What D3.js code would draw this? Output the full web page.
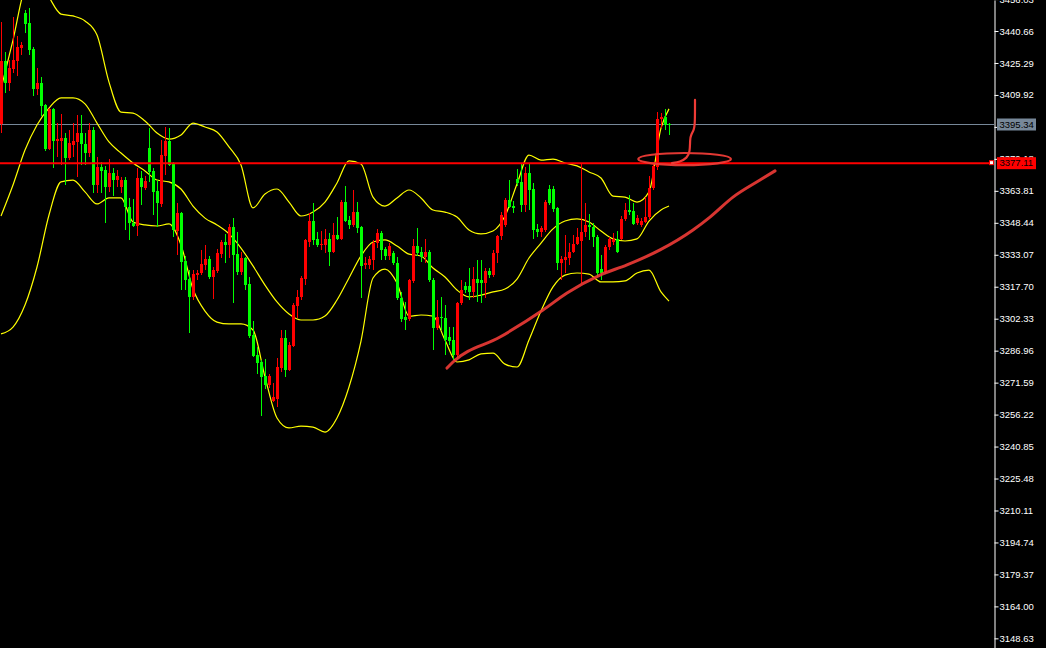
<!DOCTYPE html>
<html><head><meta charset="utf-8">
<script src="https://cdn.jsdelivr.net/npm/d3@7"></script>
<style>html,body{margin:0;padding:0;background:#000;overflow:hidden}</style>
</head><body><svg id="c" width="1046" height="648"></svg>
<script>
// ---- Candle data (index = bar number, left to right) ----
const opens=[3396.0,3426.2,3415.7,3422.4,3426.2,3432.5,3449.3,3444.5,3432.0,3412.8,
3415.7,3405.1,3383.9,3403.2,3387.8,3387.8,3389.2,3379.6,3385.9,3387.3,
3391.6,3386.3,3382.0,3393.1,3366.6,3375.3,3373.8,3365.7,3372.4,3369.0,
3365.7,3369.0,3356.0,3348.4,3346.9,3370.0,3365.2,3384.4,3373.4,3363.7,
3357.5,3380.6,3387.8,3377.2,3344.5,3353.2,3330.1,3321.4,3312.8,3323.3,
3324.3,3328.2,3331.0,3322.4,3325.3,3333.4,3339.2,3337.8,3346.4,3333.4,
3324.8,3331.5,3319.0,3294.5,3284.9,3281.5,3274.8,3270.5,3262.8,3263.7,
3278.6,3293.0,3277.7,3289.2,3308.4,3312.8,3321.4,3339.2,3349.3,3340.7,
3337.8,3337.8,3340.7,3334.4,3342.6,3340.7,3358.4,3349.8,3347.4,3353.6,
3346.4,3328.2,3328.2,3330.6,3338.7,3343.5,3335.8,3332.5,3333.9,3329.1,
3312.3,3303.1,3302.2,3320.5,3337.3,3334.4,3332.0,3334.4,3320.9,3297.9,
3303.1,3302.7,3293.5,3292.1,3284.9,3309.9,3318.1,3318.1,3315.2,3321.4,
3320.9,3319.5,3325.3,3323.3,3333.9,3342.1,3347.4,3359.4,3356.5,3369.5,
3368.1,3357.0,3372.4,3364.7,3345.5,3344.0,3345.0,3364.7,3364.7,3355.6,
3329.1,3330.6,3331.5,3334.4,3338.3,3339.7,3344.0,3347.4,3346.4,3341.6,
3326.2,3324.8,3336.8,3339.2,3340.7,3340.7,3350.3,3354.6,3354.1,3348.4,
3347.4,3348.8,3351.2,3365.2,3375.3,3398.4,3399.3,3396.0];
const highs=[3445.0,3430.6,3426.7,3447.4,3438.3,3435.4,3450.8,3451.7,3433.0,3422.9,
3418.5,3405.6,3403.6,3403.6,3396.4,3400.8,3391.6,3393.1,3396.4,3400.3,
3400.3,3391.6,3396.4,3394.5,3380.1,3377.7,3375.8,3379.1,3374.8,3373.8,
3370.5,3370.5,3360.4,3359.9,3374.8,3373.4,3370.9,3394.0,3374.8,3369.0,
3388.3,3394.5,3394.0,3377.7,3358.0,3353.6,3332.5,3325.7,3325.7,3325.7,
3335.4,3337.8,3332.5,3327.2,3335.8,3340.2,3343.1,3347.9,3350.7,3344.0,
3334.4,3332.0,3322.4,3301.2,3288.7,3282.5,3283.0,3275.7,3271.4,3283.4,
3296.9,3296.9,3291.1,3309.9,3316.1,3322.9,3340.7,3353.2,3358.0,3344.0,
3344.5,3345.5,3343.5,3348.4,3351.2,3359.4,3366.1,3351.7,3364.2,3358.4,
3346.9,3332.0,3332.5,3340.2,3345.5,3344.5,3336.8,3338.7,3334.9,3332.0,
3315.2,3310.4,3321.4,3340.7,3345.9,3336.8,3340.7,3335.4,3321.9,3311.3,
3312.8,3308.9,3298.3,3298.3,3310.4,3320.9,3320.0,3326.7,3327.2,3330.6,
3330.6,3326.7,3326.7,3335.4,3342.6,3353.6,3360.4,3369.0,3358.9,3374.3,
3377.2,3375.3,3377.2,3367.6,3347.9,3346.9,3359.4,3366.6,3366.1,3356.0,
3332.5,3342.6,3338.7,3342.6,3345.9,3377.2,3358.0,3352.7,3348.4,3342.6,
3333.0,3337.8,3341.6,3343.5,3344.5,3351.7,3358.0,3361.8,3358.0,3352.2,
3350.7,3360.8,3370.9,3377.2,3401.7,3401.2,3403.2,3396.4];
const lows=[3391.6,3410.9,3411.8,3420.5,3419.0,3429.1,3439.7,3429.1,3409.4,3409.9,
3399.8,3383.0,3383.4,3374.8,3380.1,3376.2,3366.6,3378.6,3380.1,3370.5,
3376.2,3376.2,3380.1,3362.8,3362.8,3362.8,3348.4,3363.3,3361.3,3365.7,
3362.8,3345.0,3340.2,3346.4,3342.1,3357.0,3364.2,3368.1,3352.2,3346.4,
3356.0,3371.4,3375.8,3341.6,3333.0,3316.1,3316.1,3295.5,3311.3,3320.9,
3323.3,3325.7,3321.4,3311.8,3324.3,3331.5,3329.1,3331.5,3309.9,3323.3,
3323.3,3316.1,3293.0,3283.9,3275.7,3255.5,3268.5,3269.0,3262.5,3259.9,
3276.7,3274.3,3277.2,3288.7,3302.7,3311.3,3318.5,3336.8,3337.8,3336.8,
3335.4,3333.9,3327.7,3333.9,3340.2,3340.2,3348.8,3345.5,3346.4,3343.5,
3312.3,3326.2,3326.2,3325.7,3336.3,3330.6,3330.6,3330.6,3328.2,3311.3,
3300.7,3296.9,3301.2,3319.5,3332.5,3329.6,3329.1,3320.0,3287.3,3296.9,
3296.9,3284.9,3289.7,3282.5,3283.4,3308.9,3314.7,3311.3,3312.3,3310.4,
3309.9,3312.3,3321.9,3322.4,3329.1,3340.2,3346.4,3355.6,3353.2,3366.1,
3353.6,3353.6,3354.6,3340.7,3341.6,3341.6,3344.0,3357.0,3353.6,3325.7,
3320.9,3324.3,3328.2,3333.9,3337.8,3319.5,3341.6,3340.2,3336.8,3322.4,
3320.9,3323.8,3335.4,3337.8,3333.9,3340.2,3349.3,3352.2,3347.4,3347.4,
3346.4,3348.4,3350.3,3364.2,3373.8,3394.0,3393.1,3390.7];
const closes=[3426.2,3415.7,3422.9,3426.7,3433.0,3433.9,3444.0,3431.5,3412.8,3415.7,
3404.6,3383.9,3403.2,3387.8,3388.7,3389.2,3379.6,3386.8,3387.8,3391.6,
3386.3,3382.0,3393.1,3366.6,3375.3,3373.4,3365.7,3372.4,3369.0,3370.9,
3369.0,3356.0,3348.4,3346.9,3370.0,3365.7,3368.5,3372.9,3363.3,3358.0,
3381.0,3387.8,3376.2,3345.0,3353.2,3329.6,3320.9,3312.8,3323.8,3324.3,
3328.6,3331.0,3322.4,3325.7,3333.9,3339.2,3337.8,3346.4,3333.0,3324.8,
3331.5,3318.5,3294.0,3284.4,3281.0,3274.3,3270.5,3274.8,3264.7,3279.1,
3293.0,3277.7,3289.7,3308.9,3312.8,3321.9,3340.2,3349.3,3340.2,3337.8,
3338.3,3340.7,3334.4,3342.6,3340.7,3358.4,3349.3,3347.4,3353.6,3345.9,
3327.7,3329.1,3331.0,3338.7,3343.5,3335.4,3332.5,3337.3,3329.1,3312.3,
3302.2,3301.7,3320.9,3337.3,3333.9,3332.0,3334.4,3320.9,3297.9,3303.1,
3302.7,3292.1,3291.6,3284.9,3309.9,3316.1,3316.1,3315.2,3321.4,3319.5,
3319.5,3325.3,3323.3,3333.9,3342.1,3352.2,3359.4,3356.0,3355.6,3367.6,
3357.0,3372.4,3364.2,3345.0,3344.0,3345.9,3358.4,3358.0,3355.1,3329.1,
3331.0,3332.0,3334.4,3338.3,3341.6,3344.0,3347.4,3346.4,3341.6,3324.3,
3324.3,3336.8,3340.7,3340.7,3334.4,3350.3,3354.6,3353.6,3347.9,3350.7,
3349.3,3351.2,3365.2,3375.8,3398.4,3399.3,3395.5,3395.3];

// ---- Bollinger band readings (at bar indices) ----
const bandIdx=[0,3,6,9,12,15,18,21,24,27,30,33,36,39,42,45,48,51,54,57,60,63,66,69,72,75,78,81,84,87,
90,93,96,99,102,105,108,111,114,117,120,123,126,129,132,135,138,141,144,147,150,153,156,159,162,165,167];
const bandUpper=[3412.8,3436.3,3461.3,3467.6,3457.0,3448.8,3447.9,3445.5,3438.7,3416.1,
3401.7,3401.2,3397.4,3391.6,3388.7,3390.7,3396.4,3394.5,3392.1,3384.9,
3376.2,3355.6,3362.3,3364.7,3358.4,3351.7,3353.6,3358.4,3367.6,3378.2,
3376.7,3360.8,3356.5,3360.4,3364.2,3360.4,3354.6,3353.6,3351.2,3345.0,
3343.1,3344.5,3351.7,3367.1,3381.0,3378.6,3379.1,3377.2,3375.8,3372.9,
3370.0,3361.3,3360.8,3358.4,3363.3,3394.0,3403.2];
const bandMiddle=[3351.7,3366.6,3383.4,3395.5,3403.6,3408.5,3408.5,3405.6,3396.4,3387.3,
3382.0,3377.2,3373.4,3369.0,3368.1,3364.7,3356.5,3350.7,3347.4,3343.1,
3336.3,3327.7,3318.5,3310.4,3304.6,3301.7,3301.7,3303.6,3311.3,3321.9,
3332.5,3339.2,3340.2,3337.3,3333.4,3332.5,3326.7,3322.4,3316.1,3312.8,
3313.7,3315.2,3316.6,3321.4,3331.5,3338.7,3345.5,3349.3,3350.3,3348.8,
3344.5,3340.7,3339.7,3340.7,3349.3,3354.6,3356.5];
const bandLower=[3295.0,3298.3,3308.9,3327.2,3352.2,3368.1,3369.0,3363.3,3357.5,3360.4,
3360.4,3348.8,3347.4,3346.9,3347.9,3337.8,3316.6,3306.0,3300.7,3299.8,
3299.8,3296.9,3274.3,3254.6,3249.8,3250.7,3250.2,3247.8,3254.6,3269.5,
3291.6,3321.9,3326.2,3319.5,3303.6,3304.1,3303.6,3292.1,3281.5,3282.5,
3285.4,3285.8,3280.5,3279.1,3292.1,3306.0,3317.6,3323.3,3324.3,3323.8,
3320.0,3320.0,3320.5,3324.3,3325.7,3315.2,3310.8];

// ---- Price axis tick labels ----
const tickLabels=[3456.03,3440.66,3425.29,3409.92,3394.55,3379.18,3363.81,3348.44,3333.07,3317.70,
3302.33,3286.96,3271.59,3256.22,3240.85,3225.48,3210.11,3194.74,3179.37,3164.00,3148.63];
const lastPrice=3395.34;
const levelPrice=3377.11;

// ---- Hand drawings (bar index, price) ----
const trendIdx=[111.5,113.0,124.75,135.5,141.5,149.75,156.5,164.75,173.0,177.25,183.0,189.75,193.5];
const trendPrice=[3278.6,3281.5,3293.5,3306.5,3314.7,3323.3,3328.2,3335.4,3345.0,3351.2,3360.8,3369.0,3373.4];
const markIdx=[173.5,173.5,173.25,172.5,172.25,172.25,171.5,169.75,167.75];
const markPrice=[3407.5,3396.4,3393.1,3390.7,3388.7,3382.5,3379.6,3377.7,3377.2];
const ellipseIdx=[170.9], ellipsePrice=[3379.1], ellipseIdxR=[11.6], ellipsePriceR=[2.9];

// ---- Drawing ----
const W=1046,H=648,AX=994;
const svg=d3.select('#c');
svg.append('rect').attr('width',W).attr('height',H).attr('fill','#000');
const x=d3.scaleLinear().domain([0,248.25]).range([1,AX]);
const y=d3.scaleLinear().domain([3143.99,3455.57]).range([H,0]);

svg.append('defs').append('clipPath').attr('id','clip')
  .append('rect').attr('x',0).attr('y',0).attr('width',AX).attr('height',H);
const plot=svg.append('g').attr('clip-path','url(#clip)');

// horizontal level at last price
const yLast=Math.floor(y(lastPrice))-0.5;
plot.append('line').attr('x1',0).attr('x2',AX).attr('y1',yLast).attr('y2',yLast)
  .attr('stroke','#778899').attr('stroke-width',1);

// bands
const bandLine=(vals)=>d3.line().x((d,i)=>x(bandIdx[i])).y(d=>y(d)).curve(d3.curveMonotoneX)(vals);
[bandUpper,bandMiddle,bandLower].forEach(v=>{
  plot.append('path').attr('d',bandLine(v)).attr('fill','none').attr('stroke','#ffff00').attr('stroke-width',1.2);
});

// candles
const bars=d3.range(opens.length);
const cg=plot.append('g');
bars.forEach(i=>{
  const o=opens[i],h=highs[i],l=lows[i],c=closes[i];
  const col=c>=o?'#ff0000':'#00ff00';
  const xc=Math.round(x(i));
  cg.append('line').attr('x1',xc+0.5).attr('x2',xc+0.5).attr('y1',y(h)).attr('y2',y(l))
    .attr('stroke',col).attr('stroke-width',1).attr('shape-rendering','crispEdges');
  const top=y(Math.max(o,c)),bot=y(Math.min(o,c));
  cg.append('rect').attr('x',xc-1).attr('width',3).attr('y',top).attr('height',Math.max(1,bot-top))
    .attr('fill',col).attr('shape-rendering','crispEdges');
});

// red level line
plot.append('line').attr('x1',0).attr('x2',AX).attr('y1',y(levelPrice)).attr('y2',y(levelPrice))
  .attr('stroke','#ff0000').attr('stroke-width',2);

// hand drawn annotations
plot.append('path').attr('d',d3.line().x((d,i)=>x(trendIdx[i])).y(d=>y(d)).curve(d3.curveMonotoneX)(trendPrice))
  .attr('fill','none').attr('stroke','#ee3b36').attr('stroke-width',3).attr('stroke-linecap','round').attr('opacity',0.9);
plot.append('ellipse').attr('cx',x(ellipseIdx[0])).attr('cy',y(ellipsePrice[0]))
  .attr('rx',x(ellipseIdx[0]+ellipseIdxR[0])-x(ellipseIdx[0]))
  .attr('ry',y(ellipsePrice[0]-ellipsePriceR[0])-y(ellipsePrice[0]))
  .attr('fill','none').attr('stroke','#ee3b36').attr('stroke-width',2.2).attr('opacity',0.95);
plot.append('path').attr('d',d3.line().x((d,i)=>x(markIdx[i])).y(d=>y(d)).curve(d3.curveBasis)(markPrice))
  .attr('fill','none').attr('stroke','#ee3b36').attr('stroke-width',2.2).attr('stroke-linecap','round');

// price axis
const axis=d3.axisRight(y).tickValues(tickLabels).tickSize(4).tickSizeOuter(0).tickPadding(1)
  .tickFormat(d3.format('.2f'));
const ag=svg.append('g').attr('transform',`translate(${AX+0.5},0)`).call(axis);
ag.selectAll('path,line').attr('stroke','#fff').attr('stroke-width',1);
ag.selectAll('text').attr('fill','#fff').style('font-family','"Liberation Sans", Arial, sans-serif').style('font-size','9.5px');

// price badges
function badge(p,fill,yy){
  svg.append('rect').attr('x',997).attr('y',yy-6).attr('width',39).attr('height',12).attr('fill',fill);
  svg.append('text').attr('x',999.5).attr('y',yy).attr('dy','0.34em').text(d3.format('.2f')(p))
    .attr('fill','#000').style('font-family','"Liberation Sans", Arial, sans-serif').style('font-size','9.5px');
}
badge(lastPrice,'#778899',yLast);
badge(levelPrice,'#ff0000',y(levelPrice));
svg.append('rect').attr('x',989.5).attr('y',y(levelPrice)-2.5).attr('width',4).attr('height',4)
  .attr('fill','#fff').attr('stroke','#ff0000').attr('stroke-width',1);
</script></body></html>
